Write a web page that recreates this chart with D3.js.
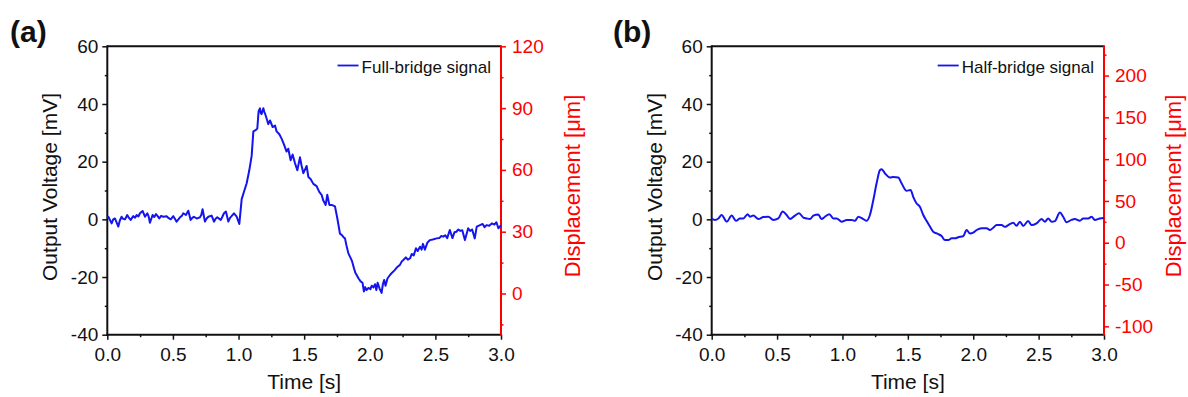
<!DOCTYPE html>
<html>
<head>
<meta charset="utf-8">
<script src="https://cdn.jsdelivr.net/npm/d3@7"></script>
<style>
  html, body { margin: 0; padding: 0; background: #fff; }
  svg { display: block; }
</style>
</head>
<body>
<svg id="chart" width="1188" height="397"></svg>
<script>
// ---- data ----
const xTicks = [0, 0.5, 1.0, 1.5, 2.0, 2.5, 3.0];
const xMinor = [0.25, 0.75, 1.25, 1.75, 2.25, 2.75];
const vTicks = [-40, -20, 0, 20, 40, 60];
const vMinor = [-30, -10, 10, 30, 50];

const dispTicksA = [0, 30, 60, 90, 120];
const dispMinorA = [-15, 15, 45, 75, 105];
const dispTicksB = [-100, -50, 0, 50, 100, 150, 200];
const dispMinorB = [-75, -25, 25, 75, 125, 175, 225];

// full-bridge signal, time [s]
const timeA = [0.00, 0.008, 0.033, 0.045, 0.058, 0.07, 0.084, 0.095, 0.109, 0.12, 0.135, 0.152, 0.165, 0.178,
  0.198, 0.212, 0.224, 0.237, 0.249, 0.269, 0.287, 0.305, 0.315, 0.325, 0.345, 0.358, 0.371, 0.385, 0.396,
  0.41, 0.427, 0.452, 0.468, 0.483, 0.503, 0.515, 0.528, 0.554, 0.568, 0.579, 0.599, 0.617, 0.635, 0.648,
  0.66, 0.681, 0.706, 0.716, 0.726, 0.744, 0.757, 0.77, 0.795, 0.813, 0.825, 0.838, 0.864, 0.876, 0.889,
  0.904, 0.922, 0.935, 0.947, 0.965, 0.986, 1.006, 1.024, 1.041, 1.062, 1.082, 1.1, 1.113, 1.133, 1.143,
  1.153, 1.163, 1.17, 1.176, 1.189, 1.197, 1.207, 1.227, 1.24, 1.26, 1.278, 1.29, 1.311, 1.328, 1.346,
  1.366, 1.379, 1.397, 1.412, 1.43, 1.448, 1.468, 1.481, 1.494, 1.519, 1.532, 1.549, 1.57, 1.595, 1.615,
  1.633, 1.646, 1.664, 1.676, 1.692, 1.709, 1.735, 1.753, 1.773, 1.786, 1.80, 1.811, 1.822, 1.837, 1.85,
  1.865, 1.88, 1.89, 1.9, 1.915, 1.93, 1.945, 1.955, 1.965, 1.975, 1.99, 2.005, 2.015, 2.027, 2.04, 2.05,
  2.06, 2.075, 2.09, 2.1, 2.11, 2.12, 2.135, 2.154, 2.17, 2.19, 2.21, 2.23, 2.245, 2.256, 2.275, 2.29,
  2.307, 2.32, 2.335, 2.352, 2.365, 2.383, 2.395, 2.405, 2.42, 2.44, 2.459, 2.48, 2.51, 2.53, 2.545, 2.56,
  2.575, 2.59, 2.61, 2.63, 2.645, 2.66, 2.675, 2.69, 2.705, 2.725, 2.75, 2.765, 2.78, 2.8, 2.815, 2.84,
  2.86, 2.875, 2.89, 2.91, 2.93, 2.95, 2.965, 2.98, 3.0];
// full-bridge signal, output voltage [mV]
const voltA = [0.5, 0.9, -1.4, 0.0, 0.3, -1.0, -2.5, -0.5, 0.9, 0.2, 0.0, 1.5, 0.5, -0.2,
  1.1, 0.6, 1.5, 1.0, 2.1, 2.9, 0.9, 2.1, 1.0, -1.2, 1.5, 0.8, 1.8, 1.0, 0.3,
  1.2, 0.9, 1.1, 0.4, 0.0, 1.1, 0.2, -0.8, 0.7, 1.2, 2.1, 1.5, 3.0, -0.2, 0.5,
  0.9, 0.3, 0.7, 1.5, 3.5, -0.8, 0.3, 0.9, 1.3, -0.8, 0.2, 0.7, -0.2, 0.8, 2.1,
  2.7, -0.8, 0.5, 1.1, 2.1, 0.9, -1.6, 7.0, 9.5, 12.5, 17.0, 22.0, 30.5, 31.0, 31.5,
  37.5, 38.5, 36.8, 36.5, 38.5, 37.2, 36.0, 33.0, 34.3, 32.0, 32.5, 30.5, 29.5, 28.0, 26.0,
  23.5, 24.5, 20.5, 22.5, 19.5, 17.0, 21.5, 18.5, 16.0, 18.5, 14.7, 14.0, 12.3, 11.5, 9.5,
  8.5, 6.5, 5.0, 8.5, 5.0, 5.0, 4.5, 0.3, -5.0, -5.4, -6.2, -6.6, -9.0, -11.8, -13.0,
  -14.5, -17.0, -18.5, -19.3, -20.5, -21.5, -22.0, -25.0, -23.5, -24.5, -23.8, -24.2, -23.0, -23.6, -22.5, -24.5,
  -22.0, -24.0, -25.5, -22.5, -21.0, -23.0, -20.5, -19.3, -18.5, -17.6, -16.5, -15.8, -14.5, -14.1, -13.2, -14.0,
  -13.5, -12.0, -12.5, -10.0, -11.0, -9.5, -10.5, -8.5, -10.5, -8.0, -7.2, -7.0, -6.6, -6.5, -5.8, -6.0,
  -5.5, -6.5, -3.7, -6.5, -4.5, -4.3, -3.5, -4.0, -3.8, -7.2, -3.1, -4.0, -3.5, -6.6, -2.5, -2.0,
  -1.6, -2.7, -2.0, -2.2, -1.4, -1.8, -1.0, -3.1, -2.0];

// half-bridge signal, time [s]
const timeB = [0.0, 0.025, 0.051, 0.076, 0.115, 0.153, 0.186, 0.216, 0.242, 0.275, 0.293, 0.318, 0.357,
  0.395, 0.433, 0.471, 0.509, 0.543, 0.573, 0.599, 0.637, 0.668, 0.701, 0.726, 0.752, 0.777, 0.815, 0.84,
  0.866, 0.9, 0.93, 0.955, 0.994, 1.032, 1.07, 1.096, 1.121, 1.159, 1.185, 1.21, 1.236, 1.261, 1.287, 1.3,
  1.325, 1.363, 1.389, 1.427, 1.452, 1.49, 1.521, 1.541, 1.567, 1.592, 1.618, 1.643, 1.669, 1.694, 1.732,
  1.758, 1.784, 1.809, 1.835, 1.86, 1.885, 1.924, 1.949, 1.975, 2.0, 2.026, 2.064, 2.102, 2.128, 2.153,
  2.179, 2.217, 2.242, 2.268, 2.306, 2.331, 2.357, 2.382, 2.42, 2.446, 2.484, 2.523, 2.548, 2.573, 2.6,
  2.624, 2.663, 2.688, 2.713, 2.751, 2.777, 2.815, 2.841, 2.879, 2.905, 2.93, 2.968, 3.0];
// half-bridge signal, output voltage [mV]
const voltB = [0.3, -0.2, 0.3, 1.5, -0.8, 1.3, -0.5, 0.3, 0.3, 1.8, 0.9, 1.3, 0.1,
  0.8, 0.9, -0.2, 0.3, 2.7, 1.5, 0.1, 1.3, 2.1, 0.6, 0.3, 0.1, 1.3, 1.7, 0.1,
  0.9, 1.8, 0.3, 0.3, -0.8, -0.2, -0.2, -0.5, 0.9, 0.1, -0.5, 1.5, 6.7, 12.5, 17.1, 17.4,
  15.9, 14.5, 14.7, 14.5, 12.5, 9.9, 10.2, 7.8, 5.5, 4.4, 1.5, -0.5, -2.5, -4.3, -5.1,
  -5.8, -7.2, -7.2, -6.6, -6.6, -6.2, -5.8, -3.7, -4.9, -4.6, -3.7, -3.1, -3.1, -3.7, -2.9,
  -2.0, -2.0, -2.6, -2.0, -1.2, -2.2, -0.8, -2.3, -0.6, -2.0, -1.4, 0.1, -0.8, 0.3, -0.8,
  -0.6, 2.4, 0.9, -1.0, -0.2, 0.1, -0.5, 0.3, 0.3, 0.9, -0.2, 0.3, 0.5];

// ---- drawing ----
const FONT = "'Liberation Sans', Arial, Helvetica, sans-serif";
const RED = "#ff0000";
const BLUE = "#1414ee";
const INK = "#111";
const svg = d3.select("#chart");

// plain hyphen for negatives, like the original figure
const intFmt = d => String(d);

drawPanel({
  tag: "(a)", tagX: 10,
  left: 107.3, right: 501, top: 46.3, bottom: 334.7,
  time: timeA, volt: voltA, smooth: false,
  rDomain: [-20, 120], rTicks: dispTicksA, rMinor: dispMinorA,
  legend: "Full-bridge signal", yTitleX: 50, rTitleX: 572
});
drawPanel({
  tag: "(b)", tagX: 613,
  left: 711.7, right: 1104, top: 46.3, bottom: 334.7,
  time: timeB, volt: voltB, smooth: true,
  rDomain: [-110, 235], rTicks: dispTicksB, rMinor: dispMinorB,
  legend: "Half-bridge signal", yTitleX: 655, rTitleX: 1173
});

function drawPanel(c) {
  const g = svg.append("g").attr("font-family", FONT);

  const x = d3.scaleLinear().domain([0, 3]).range([c.left, c.right]);
  const y = d3.scaleLinear().domain([-40, 60]).range([c.bottom, c.top]);
  const yr = d3.scaleLinear().domain(c.rDomain).range([c.bottom, c.top]);

  function style(ax, color) {
    ax.attr("font-family", FONT).attr("font-size", 19);
    ax.select(".domain").remove();
    ax.selectAll(".tick line").attr("stroke", color).attr("stroke-width", 1.5);
    ax.selectAll(".tick text").attr("fill", color);
  }

  // bottom axis
  g.append("g").attr("transform", `translate(0,${c.bottom})`)
    .call(d3.axisBottom(x).tickValues(xTicks).tickFormat(d3.format(".1f")).tickSize(5).tickPadding(8))
    .call(ax => style(ax, INK));
  g.append("g").attr("transform", `translate(0,${c.bottom})`)
    .call(d3.axisBottom(x).tickValues(xMinor).tickFormat("").tickSize(2.5))
    .call(ax => style(ax, INK));

  // left axis
  g.append("g").attr("transform", `translate(${c.left},0)`)
    .call(d3.axisLeft(y).tickValues(vTicks).tickFormat(intFmt).tickSize(5).tickPadding(4))
    .call(ax => style(ax, INK));
  g.append("g").attr("transform", `translate(${c.left},0)`)
    .call(d3.axisLeft(y).tickValues(vMinor).tickFormat("").tickSize(2.5))
    .call(ax => style(ax, INK));

  // right axis (displacement)
  g.append("g").attr("transform", `translate(${c.right},0)`)
    .call(d3.axisRight(yr).tickValues(c.rTicks).tickFormat(intFmt).tickSize(5).tickPadding(6))
    .call(ax => style(ax, RED));
  g.append("g").attr("transform", `translate(${c.right},0)`)
    .call(d3.axisRight(yr).tickValues(c.rMinor).tickFormat("").tickSize(2.5))
    .call(ax => style(ax, RED));

  // frame
  g.append("line").attr("x1", c.left).attr("x2", c.right).attr("y1", c.top).attr("y2", c.top)
    .attr("stroke", INK).attr("stroke-width", 2);
  g.append("line").attr("x1", c.left - 1).attr("x2", c.right).attr("y1", c.bottom).attr("y2", c.bottom)
    .attr("stroke", INK).attr("stroke-width", 2);
  g.append("line").attr("x1", c.left).attr("x2", c.left).attr("y1", c.top - 1).attr("y2", c.bottom + 1)
    .attr("stroke", INK).attr("stroke-width", 2);
  g.append("line").attr("x1", c.right).attr("x2", c.right).attr("y1", c.top - 1).attr("y2", c.bottom + 1)
    .attr("stroke", RED).attr("stroke-width", 2);

  // signal
  const pts = c.time.map((t, i) => [t, c.volt[i]]);
  const line = d3.line()
    .x(d => x(d[0]))
    .y(d => y(d[1]))
    .curve(c.smooth ? d3.curveMonotoneX : d3.curveLinear);
  g.append("path").datum(pts)
    .attr("d", line)
    .attr("fill", "none")
    .attr("stroke", BLUE)
    .attr("stroke-width", 2)
    .attr("stroke-linejoin", "round");

  // legend
  const lt = g.append("text")
    .attr("x", c.right - 10).attr("y", 72.5)
    .attr("text-anchor", "end").attr("font-size", 17).attr("fill", INK)
    .text(c.legend);
  const tx = c.right - 10 - lt.node().getComputedTextLength();
  g.append("line").attr("x1", tx - 24).attr("x2", tx - 3).attr("y1", 65.5).attr("y2", 65.5)
    .attr("stroke", BLUE).attr("stroke-width", 1.8);

  // titles
  g.append("text")
    .attr("x", (c.left + c.right) / 2).attr("y", 389)
    .attr("text-anchor", "middle").attr("font-size", 21).attr("fill", INK)
    .text("Time [s]");
  g.append("text")
    .attr("transform", `translate(${c.yTitleX},187) rotate(-90)`)
    .attr("dy", "0.35em")
    .attr("text-anchor", "middle").attr("font-size", 21).attr("fill", INK)
    .text("Output Voltage [mV]");
  g.append("text")
    .attr("transform", `translate(${c.rTitleX},186) rotate(-90)`)
    .attr("dy", "0.35em")
    .attr("text-anchor", "middle").attr("font-size", 22).attr("fill", RED)
    .text("Displacement [μm]");

  g.append("text")
    .attr("x", c.tagX).attr("y", 42)
    .attr("font-size", 30).attr("font-weight", "bold").attr("fill", INK)
    .text(c.tag);
}
</script>
</body>
</html>
